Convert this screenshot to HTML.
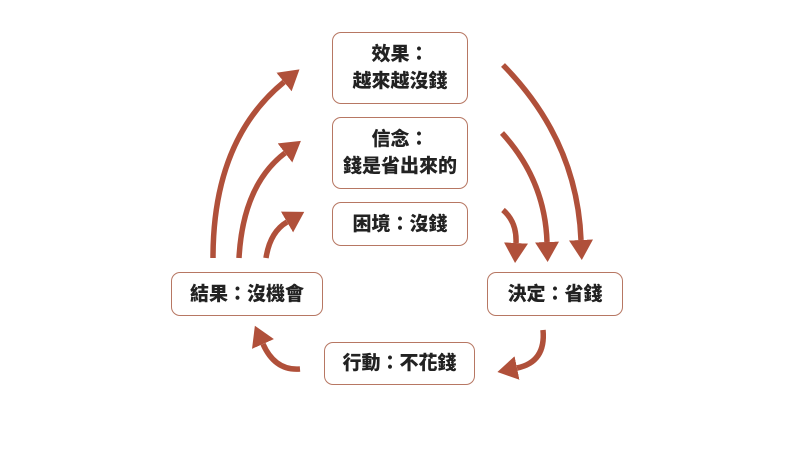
<!DOCTYPE html>
<html><head><meta charset="utf-8"><style>
body{margin:0;width:792px;height:460px;background:#fff;overflow:hidden;position:relative;font-family:"Liberation Sans","Noto Sans CJK TC",sans-serif;}
.b{position:absolute;border:1.5px solid #b77763;border-radius:9px;box-sizing:border-box;display:flex;align-items:center;justify-content:center;text-align:center;font-weight:900;font-size:19px;line-height:27px;color:#222;background:#fff}
svg{position:absolute;left:0;top:0}
</style></head><body>
<svg width="792" height="460">
<defs><marker id="h" markerUnits="userSpaceOnUse" markerWidth="30" markerHeight="30" refX="0" refY="12" orient="auto"><path d="M0,0 L20,12 L0,24 Z" fill="#b0503a"/></marker></defs>
<g fill="none" stroke="#b0503a" stroke-width="5.5" marker-end="url(#h)">
<path d="M503,65 Q577,140 581,240"/>
<path d="M502,133 Q545,180 547,242"/>
<path d="M503,210 Q517,222 516,243"/>
<path d="M213,258 Q213,140 284,82"/>
<path d="M239,258 Q243,185 285,153"/>
<path d="M266,258 Q270,232 287,222"/>
<path d="M543,330 Q546,362 517,368"/>
<path d="M300,369 Q275,371 263,344"/>
</g>
</svg>
<div class="b" style="left:332px;top:32px;width:136px;height:72px">效果：<br>越來越沒錢</div>
<div class="b" style="left:332px;top:117px;width:136px;height:72px">信念：<br>錢是省出來的</div>
<div class="b" style="left:332px;top:202px;width:136px;height:44px">困境：沒錢</div>
<div class="b" style="left:171px;top:272px;width:152px;height:44px">結果：沒機會</div>
<div class="b" style="left:487px;top:272px;width:136px;height:44px">決定：省錢</div>
<div class="b" style="left:324px;top:342px;width:151px;height:43px">行動：不花錢</div>
</body></html>
